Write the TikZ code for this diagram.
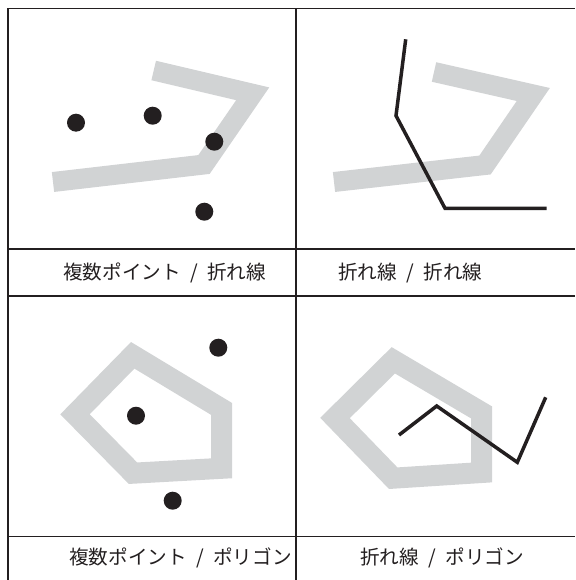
\documentclass[tikz,border=0pt]{standalone}
\usepackage{fontspec}
\newfontfamily\jpfont{Noto Sans CJK JP}
\definecolor{ink}{RGB}{35,31,32}
\definecolor{band}{RGB}{209,211,212}
\newcommand\slashsep{\hspace{0.48em}/\hspace{0.48em}}
\tikzset{
  rule/.style={draw=ink, line width=1.2pt},
  bandline/.style={draw=band, line width=20pt},
  inkline/.style={draw=ink, line width=3.5pt},
  dot/.style={circle, fill=ink, inner sep=0pt, minimum size=18pt},
  caption/.style={anchor=west, inner sep=0pt, text=ink,
    font=\jpfont\fontsize{19.6}{24}\selectfont},
}
\begin{document}
\begin{tikzpicture}[x=1pt,y=-1pt]
      \useasboundingbox (0,0) rectangle (575,580);
      % table rules
      \draw[rule] (8,8.5) -- (575,8.5);
      \draw[rule] (8,249) -- (575,249);
      \draw[rule] (8,296) -- (575,296);
      \draw[rule] (8,536.5) -- (575,536.5);
      \draw[rule] (8,8.5) -- (8,580);
      \draw[rule] (296,8.5) -- (296,580);
      % vertices
      \path
        (53,182) coordinate (a0)
        (204,164.5) coordinate (a1)
        (252.7,93.8) coordinate (a2)
        (153.7,70.5) coordinate (a3)
        (334,182) coordinate (b0)
        (485,165) coordinate (b1)
        (533.3,94.5) coordinate (b2)
        (434,72) coordinate (b3)
        (405.7,39.3) coordinate (c0)
        (396,115.7) coordinate (c1)
        (445,208.3) coordinate (c2)
        (546.7,208.3) coordinate (c3)
        (75,414.3) coordinate (d0)
        (132.7,355.3) coordinate (d1)
        (221.7,409) coordinate (d2)
        (221.7,468.3) coordinate (d3)
        (133,473.2) coordinate (d4)
        (335,418) coordinate (e0)
        (393.3,360.3) coordinate (e1)
        (481.7,412.5) coordinate (e2)
        (481.7,472.5) coordinate (e3)
        (393.2,478.2) coordinate (e4)
        (399,435) coordinate (f0)
        (436.7,406) coordinate (f1)
        (517.3,462.3) coordinate (f2)
        (545.7,397.3) coordinate (f3);
      \begin{scope}[bandline]
        \draw (a0) -- (a1) -- (a2) -- (a3);
        \draw (b0) -- (b1) -- (b2) -- (b3);
        \draw[line width=21pt] (d0) -- (d1) -- (d2) -- (d3) -- (d4) -- cycle;
        \draw[line width=21pt] (e0) -- (e1) -- (e2) -- (e3) -- (e4) -- cycle;
      \end{scope}
      \begin{scope}[inkline]
        \draw (c0) -- (c1) -- (c2) -- (c3);
        \draw (f0) -- (f1) -- (f2) -- (f3);
      \end{scope}
      \path
        (76,122.7) node[dot] (p0){}
        (152.7,115.7) node[dot] (p1){}
        (214.3,141.7) node[dot] (p2){}
        (204.3,211.7) node[dot] (p3){}
        (218.3,347.7) node[dot] (q0){}
        (136,415.7) node[dot] (q1){}
        (172.7,500.7) node[dot] (q2){};
      \node[caption] (t0) at (63,273) {複数ポイント\slashsep 折れ線};
      \node[caption] (t1) at (338,273) {折れ線\slashsep 折れ線};
      \node[caption] (t2) at (69,558) {複数ポイント\slashsep ポリゴン};
      \node[caption] (t3) at (360,558) {折れ線\slashsep ポリゴン};
    \end{tikzpicture}
\end{document}
